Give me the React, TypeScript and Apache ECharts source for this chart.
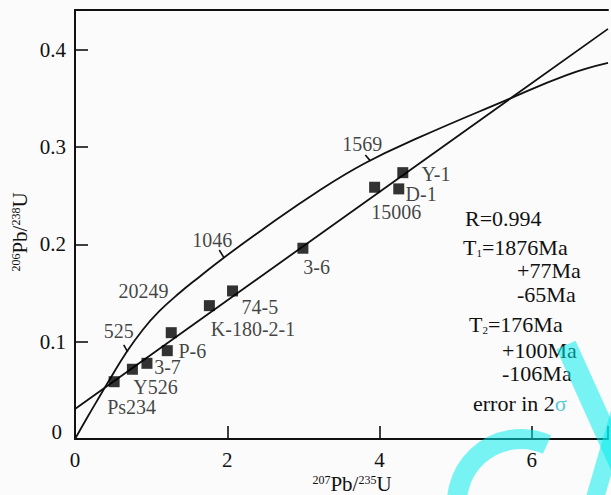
import React, { useEffect, useRef } from "react";
import * as echarts from "echarts";

// Sample analyses (207Pb/235U, 206Pb/238U)
const sampleNames = ["Ps234", "Y526", "3-7", "P-6", "20249", "K-180-2-1", "74-5", "3-6", "15006", "Y-1", "D-1"];
const pb207U235 = [0.514, 0.754, 0.945, 1.212, 1.264, 1.765, 2.069, 2.993, 3.935, 4.305, 4.252];
const pb206U238 = [0.0589, 0.0717, 0.0778, 0.0908, 0.1093, 0.1371, 0.1522, 0.1961, 0.2588, 0.2738, 0.2571];

// Concordia curve
const concordiaX = [0, 0.157, 0.3265, 0.483, 0.653, 0.888, 1.11, 1.371, 1.632, 1.933, 2.455, 3.199, 3.813, 4.505, 5.642, 6.465, 7.0];
const concordiaY = [0, 0.0216, 0.0442, 0.0648, 0.0864, 0.1121, 0.1316, 0.1501, 0.1666, 0.1851, 0.2149, 0.255, 0.2838, 0.3095, 0.3476, 0.3743, 0.3866];

// Discordia line end points
const discordiaX = [0, 7.0];
const discordiaY = [0.0308, 0.4216];

// Age ticks on the concordia (Ma): base on curve, outer end
const ageTickNames = ["525", "1046", "1569"];
const ageTickBaseX = [0.692, 1.959, 3.879];
const ageTickBaseY = [0.0895, 0.1861, 0.2859];
const ageTickEndX = [0.64, 1.894, 3.813];
const ageTickEndY = [0.0967, 0.1943, 0.292];

// Text labels placed in data coordinates
const labelTexts = ["Ps234", "Y526", "3-7", "P-6", "K-180-2-1", "74-5", "3-6", "15006", "Y-1", "D-1", "20249", "525", "1046", "1569"];
const labelX = [0.744, 1.058, 1.215, 1.541, 2.338, 2.429, 3.174, 4.218, 4.741, 4.545, 0.901, 0.575, 1.802, 3.774];
const labelY = [0.0329, 0.0535, 0.074, 0.0905, 0.1131, 0.1357, 0.1769, 0.2334, 0.2725, 0.2519, 0.1522, 0.1111, 0.2046, 0.3033];

// Axis tick values
const xTicks = [0, 2, 4, 6];
const yTicks = [0, 0.1, 0.2, 0.3, 0.4];

// Result annotation block
const annotationLines = [
  "R=0.994",
  "T{sub|1}=1876Ma",
  "+77Ma",
  "-65Ma",
  "T{sub|2}=176Ma",
  "+100Ma",
  "-106Ma",
  "error in 2{sig|σ}",
];
const annotationPos = [
  [465, 218],
  [463, 247],
  [517, 270],
  [517, 294],
  [469, 324],
  [502, 350],
  [502, 373],
  [473, 403],
];

const FONT = "'Liberation Serif', serif";
const INK = "#111";
const WM = "rgba(0, 236, 236, 0.52)";

export default function App() {
  const ref = useRef<HTMLDivElement>(null);

  useEffect(() => {
    if (!ref.current) return;
    const chart = echarts.init(ref.current, undefined, { renderer: "svg" });

    const isTick = (v: number, list: number[]) => list.some((t) => Math.abs(t - v) < 1e-9);

    const tickSeries = ageTickNames.map((n, i) => ({
      type: "line",
      name: "tick-" + n,
      data: [
        [ageTickBaseX[i], ageTickBaseY[i]],
        [ageTickEndX[i], ageTickEndY[i]],
      ],
      showSymbol: false,
      silent: true,
      lineStyle: { color: INK, width: 1.6 },
    }));

    const option: any = {
      animation: false,
      backgroundColor: "#fbfbfb",
      textStyle: { fontFamily: FONT },
      grid: { left: 75, right: 0, top: 10, bottom: 56, containLabel: false },
      xAxis: [
        {
          type: "value",
          min: 0,
          max: 7,
          interval: 2,
          axisLine: { show: true, onZero: false, lineStyle: { color: INK, width: 2 } },
          axisTick: { show: true, inside: true, length: 13, lineStyle: { color: INK, width: 1.6 } },
          axisLabel: {
            margin: 10,
            fontSize: 21,
            fontFamily: FONT,
            color: INK,
            formatter: (v: number) => (isTick(v, xTicks) ? String(v) : ""),
          },
          splitLine: { show: false },
        },
        {
          type: "value",
          position: "top",
          min: 0,
          max: 7,
          axisLine: { show: true, onZero: false, lineStyle: { color: INK, width: 2 } },
          axisTick: { show: false },
          axisLabel: { show: false },
          splitLine: { show: false },
        },
      ],
      yAxis: {
        type: "value",
        min: 0,
        max: 0.441,
        interval: 0.1,
        axisLine: { show: true, onZero: false, lineStyle: { color: INK, width: 2 } },
        axisTick: { show: true, inside: true, length: 13, lineStyle: { color: INK, width: 1.6 } },
        axisLabel: {
          margin: 9,
          fontSize: 21,
          fontFamily: FONT,
          color: INK,
          formatter: (v: number) => {
            if (!isTick(v, yTicks)) return "";
            if (v === 0) return "{z|0}";
            return v.toFixed(1);
          },
          rich: {
            z: { fontSize: 21, fontFamily: FONT, color: INK, padding: [0, 4, 14, 0] },
          },
        },
        splitLine: { show: false },
      },
      graphic: [
        {
          type: "text",
          x: 352,
          y: 484,
          style: {
            text: "{s|207}{b|Pb/}{s|235}{b|U}",
            align: "center",
            verticalAlign: "middle",
            fill: INK,
            rich: {
              s: { fontSize: 12, fontFamily: FONT, fill: INK, verticalAlign: "top" },
              b: { fontSize: 21, fontFamily: FONT, fill: INK },
            },
          },
        },
        {
          type: "text",
          x: 20,
          y: 232,
          rotation: Math.PI / 2,
          style: {
            text: "{s|206}{b|Pb/}{s|238}{b|U}",
            align: "center",
            verticalAlign: "middle",
            fill: INK,
            rich: {
              s: { fontSize: 12, fontFamily: FONT, fill: INK, verticalAlign: "top" },
              b: { fontSize: 21, fontFamily: FONT, fill: INK },
            },
          },
        },
        ...annotationLines.map((t, i) => ({
          type: "text",
          x: annotationPos[i][0],
          y: annotationPos[i][1],
          style: {
            text: t,
            align: "left",
            verticalAlign: "middle",
            fontSize: 22,
            fontFamily: FONT,
            fill: INK,
            rich: {
              sub: { fontSize: 11, fontFamily: FONT, fill: INK, verticalAlign: "bottom" },
              sig: { fontSize: 22, fontFamily: FONT, fill: "#56c9d4" },
            },
          },
        })),
        // watermark strokes
        {
          type: "arc",
          z: 100,
          shape: { cx: 521, cy: 503, r: 64, startAngle: (160 * Math.PI) / 180, endAngle: (294 * Math.PI) / 180, clockwise: true },
          style: { stroke: WM, lineWidth: 20, fill: "none" },
        },
        {
          type: "line",
          z: 100,
          shape: { x1: 566, y1: 345, x2: 626, y2: 478 },
          style: { stroke: WM, lineWidth: 21 },
        },
        {
          type: "line",
          z: 100,
          shape: { x1: 624, y1: 398, x2: 593, y2: 505 },
          style: { stroke: WM, lineWidth: 18 },
        },
      ],
      series: [
        {
          type: "line",
          name: "concordia",
          data: concordiaX.map((x, i) => [x, concordiaY[i]]),
          smooth: 0.45,
          showSymbol: false,
          silent: true,
          lineStyle: { color: INK, width: 1.8 },
        },
        {
          type: "line",
          name: "discordia",
          data: discordiaX.map((x, i) => [x, discordiaY[i]]),
          showSymbol: false,
          silent: true,
          lineStyle: { color: INK, width: 1.8 },
        },
        ...tickSeries,
        {
          type: "scatter",
          name: "samples",
          data: pb207U235.map((x, i) => ({ name: sampleNames[i], value: [x, pb206U238[i]] })),
          symbol: "rect",
          symbolSize: 11,
          itemStyle: { color: "#000" },
          z: 5,
        },
        {
          type: "scatter",
          name: "labels",
          data: labelTexts.map((t, i) => ({ name: t, value: [labelX[i], labelY[i]] })),
          symbolSize: 0,
          silent: true,
          label: {
            show: true,
            position: "inside",
            formatter: "{b}",
            fontSize: 20,
            lineHeight: 16,
            fontFamily: FONT,
            color: INK,
          },
        },
      ],
    };

    chart.setOption(option);
    return () => chart.dispose();
  }, []);

  return (
    <div
      ref={ref}
      style={{ position: "fixed", left: 0, top: 0, width: 611, height: 495, background: "#fbfbfb" }}
    />
  );
}
